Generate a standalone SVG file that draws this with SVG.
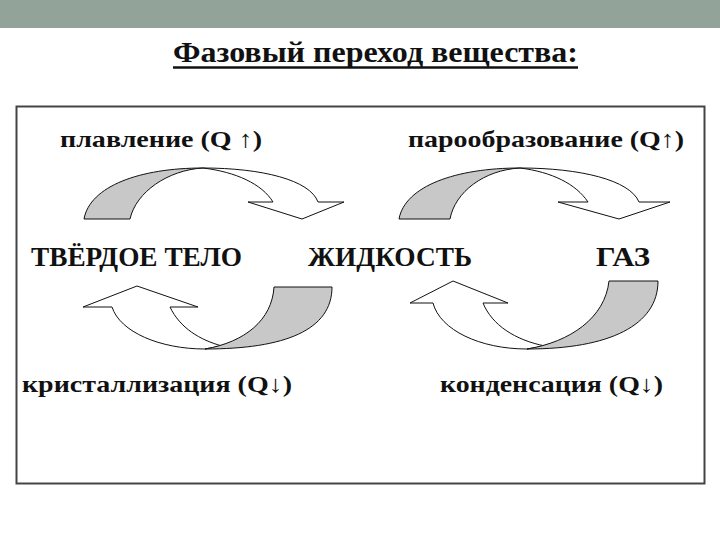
<svg xmlns="http://www.w3.org/2000/svg" width="720" height="540" viewBox="0 0 720 540">
<style>
.lbl{font-size:24px;font-weight:bold;fill:#111}
.big{font-size:28px;font-weight:bold;fill:#111}
.g{fill:#c8c8c8;stroke:#111;stroke-width:1;stroke-linejoin:miter}
.w{fill:#fff;stroke:#111;stroke-width:1;stroke-linejoin:miter}
</style>
<rect x="0" y="0" width="720" height="28" fill="#92a39a"/>
<g id="title">
<text x="173" y="62" font-family="Liberation Serif" font-size="30" font-weight="bold" fill="#111" textLength="405" lengthAdjust="spacingAndGlyphs">Фазовый переход вещества:</text>
<line x1="173" y1="67.5" x2="578" y2="67.5" stroke="#111" stroke-width="2.5"/>
</g>
<rect x="16.5" y="106.5" width="688" height="377" fill="#fff" stroke="#444" stroke-width="2"/>
<g id="labels">
<text class="lbl" font-family="Liberation Serif" x="60" y="147" textLength="202" lengthAdjust="spacingAndGlyphs">плавление (Q ↑)</text>
<text class="lbl" font-family="Liberation Serif" x="408" y="147" textLength="276" lengthAdjust="spacingAndGlyphs">парообразование (Q↑)</text>
<text class="lbl" font-family="Liberation Serif" x="22" y="392" textLength="270" lengthAdjust="spacingAndGlyphs">кристаллизация (Q↓)</text>
<text class="lbl" font-family="Liberation Serif" x="440" y="392" textLength="223" lengthAdjust="spacingAndGlyphs">конденсация (Q↓)</text>
</g>
<g id="solid"><text class="big" font-family="Liberation Serif" x="31" y="266" textLength="211" lengthAdjust="spacingAndGlyphs">ТВЁРДОЕ ТЕЛО</text></g>
<g id="liquid"><text class="big" font-family="Liberation Serif" x="308" y="266" textLength="164" lengthAdjust="spacingAndGlyphs">ЖИДКОСТЬ</text></g>
<g id="gas"><text class="big" font-family="Liberation Serif" x="596" y="266" textLength="54" lengthAdjust="spacingAndGlyphs">ГАЗ</text></g>
<g id="connectors">
<g id="melting">
<path class="w" d="M203,168 C262,168 310,180 318,202 L344,202 L302,219 L248,202 L273,202 C262,184 236,172 203,168 Z"/>
<path class="g" d="M84,219 C90,186 140,168 203,168 C168,170 136,192 130,219 Z"/>
</g>
<g id="vaporization">
<path class="w" d="M520,168 C580,168 630,180 639,202 L670,202 L619,219 L558,202 L588,202 C576,184 552,172 520,168 Z"/>
<path class="g" d="M399,219 C405,186 456,168 520,168 C484,170 455,192 450,219 Z"/>
</g>
<g id="crystallization">
<path class="w" d="M205,349 C160,349 120,332 112,307 L83,307 L137,286 L198,307 L170,307 C180,328 200,340 222,346 Z"/>
<path class="g" d="M274,287 L332,287 C332,330 285,349 205,349 C245,342 272,320 274,287 Z"/>
</g>
<g id="condensation">
<path class="w" d="M527,349 C480,349 440,330 433,303 L410,303 L453,281 L508,303 L483,303 C492,325 515,340 545,346 Z"/>
<path class="g" d="M609,281 L658,281 C658,325 610,349 527,349 C570,342 605,318 609,281 Z"/>
</g>
</g>
</svg>
